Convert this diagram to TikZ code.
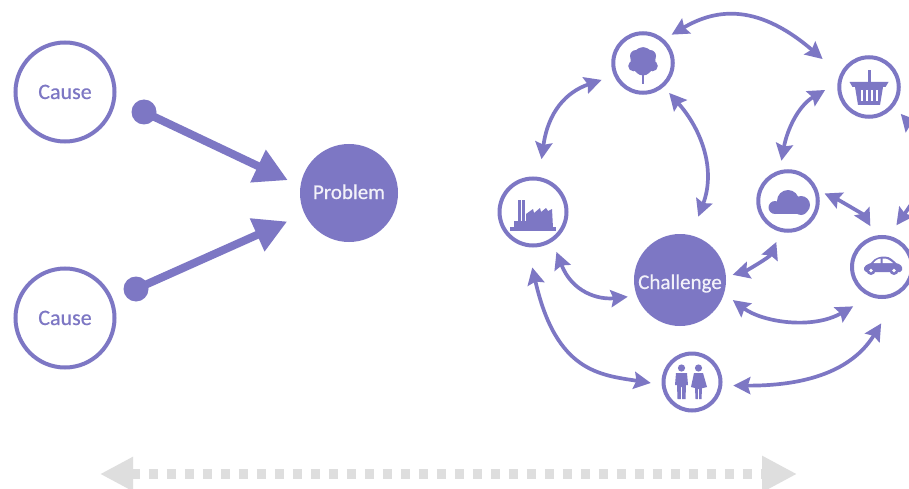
\documentclass[tikz,border=0pt]{standalone}
\usepackage{fontspec}
\setmainfont{Carlito}
\newfontfamily\labfont[FakeBold=0.5]{Carlito}
\usetikzlibrary{arrows.meta}
\definecolor{pur}{RGB}{125,119,196}
\definecolor{gry}{RGB}{222,222,222}
\tikzset{
  x=1pt,y=-1pt,
  ring/.style={circle,draw=pur,line width=4pt,fill=white,inner sep=0pt,outer sep=0pt,text=pur,font=\labfont\fontsize{22}{22}\selectfont},
  solidc/.style={circle,fill=pur,inner sep=0pt,outer sep=0pt,text=white!90!pur,font=\labfont\fontsize{21}{21}\selectfont},
  dbl/.style={draw=pur,line width=3.7pt,{Stealth[length=17pt,width=17pt,inset=2.5pt]}-{Stealth[length=17pt,width=17pt,inset=2.5pt]}},
  bigarrow/.style={draw=pur,line width=8pt,-{Triangle[length=33pt,width=34pt]}},
  icon/.style={fill=pur,draw=none},
  gap/.style={fill=white,draw=none}
}
\begin{document}
\begin{tikzpicture}
\useasboundingbox (0,0) rectangle (909,489);
\clip (0,0) rectangle (909,489);
\fill[white] (0,0) rectangle (909,489);
% left
\node[ring,minimum size=99pt] (cause1) at (65,92) {\raisebox{-7pt}[0pt][0pt]{Cause}};
\node[ring,minimum size=99pt] (cause2) at (65,318) {\raisebox{-7pt}[0pt][0pt]{Cause}};
\node[solidc,minimum size=98pt] (problem) at (349,193) {\raisebox{-6pt}[0pt][0pt]{Problem}};
\node[solidc,minimum size=25pt] (dot1) at (144,112) {};
\node[solidc,minimum size=25pt] (dot2) at (136,289) {};
\draw[bigarrow,shorten >=14pt] (dot1.center) -- (problem.172);
\draw[bigarrow,shorten >=19pt] (dot2.center) -- (problem.205);
% right nodes
\node[ring,minimum size=59.5pt] (tree) at (643,63) {};
\node[ring,minimum size=59.5pt] (basket) at (869,87) {};
\node[ring,minimum size=59.5pt] (cloud) at (788,201) {};
\node[ring,minimum size=67pt] (factory) at (533,212) {};
\node[ring,minimum size=60pt] (car) at (882,267) {};
\node[ring,minimum size=57pt] (people) at (692,382) {};
\node[solidc,minimum size=92pt] (challenge) at (680,280) {\raisebox{-9pt}[0pt][0pt]{Challenge}};
% connectors
\draw[dbl,shorten <=11pt,shorten >=25pt] (tree.50) .. controls (712,11) and (754,0) .. (basket.157);
\draw[dbl,shorten <=20pt,shorten >=15pt] (factory.80) .. controls (548,112) and (566,92) .. (tree.204);
\draw[dbl,shorten <=10pt,shorten >=20pt] (tree.311) .. controls (702,130) and (716,170) .. (challenge.76);
\draw[dbl,shorten <=17pt,shorten >=12pt] (basket.169) .. controls (798,106) and (787,130) .. (cloud.107);
\draw[dbl,shorten <=10pt,shorten >=13pt] (cloud.23) .. controls (839,200) and (864,215) .. (car.100);
\draw[dbl,shorten <=7pt,shorten >=13pt] (challenge.4) .. controls (746,271) and (770,257) .. (cloud.257);
\draw[dbl,shorten <=11pt,shorten >=22pt] (challenge.343) .. controls (762,322) and (812,330) .. (car.251);
\draw[dbl,shorten <=13pt,shorten >=9pt] (factory.304) .. controls (572,292) and (598,300) .. (challenge.200);
\draw[dbl,shorten <=23pt,shorten >=13pt] (factory.260) .. controls (556,372) and (600,375) .. (people.186);
\draw[dbl,shorten <=13pt,shorten >=40pt] (people.353) .. controls (815,386) and (855,366) .. (car.312);
\draw[dbl,shorten <=12pt,shorten >=15pt] (basket.323) .. controls (942,160) and (920,192) .. (car.79);
% grey double arrow
\coordinate (gl) at (100,474);
\coordinate (gr) at (797,474);
\draw[gry,line width=10pt,dash pattern=on 9pt off 9pt,{Triangle[length=33pt,width=32pt]}-{Triangle[length=35pt,width=34pt]}] (gl) -- (gr);
% tree icon
\begin{scope}[shift={(643,63)}]
\fill[icon] (0,-2) ellipse[x radius=12.5,y radius=13.5];
\fill[icon] (0,-8) circle[radius=7.8];
\fill[icon] (-7,-7) circle[radius=6];
\fill[icon] (7,-7) circle[radius=6];
\fill[icon] (-9.5,3) circle[radius=5.3];
\fill[icon] (9.5,3) circle[radius=5.3];
\fill[icon] (0,4) circle[radius=8.5];
\fill[icon] (-1.2,8) rectangle (1.2,21);
\end{scope}
% basket icon
\begin{scope}[shift={(869,87)}]
\fill[icon] (-1.5,-17) rectangle (1.5,-4);
\fill[icon] (-19.5,-5) -- (19.5,-5) -- (16.5,0) -- (-16.5,0) -- cycle;
\fill[icon] (-14,0) -- (14,0) -- (11,18) -- (-11,18) -- cycle;
\foreach \dx in {-7.5,-2.5,2.5,7.5}
  \fill[gap] (\dx-1,3) rectangle (\dx+1,14);
\end{scope}
% cloud icon
\begin{scope}[shift={(788,201)}]
\fill[icon] (0,0) circle[radius=11];
\fill[icon] (-13,6.5) circle[radius=6.5];
\fill[icon] (13,4) circle[radius=9];
\fill[icon] (-13,6) rectangle (13,13);
\fill[icon] (13,7) circle[radius=7];
\end{scope}
% factory icon
\begin{scope}[shift={(533,212)}]
\fill[icon] (-23,15) rectangle (23,18.5);
\fill[icon] (-15,-12) rectangle (-12.5,16);
\fill[icon] (-11,-12) rectangle (-8.5,16);
\fill[icon] (-19,16) -- (-19,9) -- (-7,9) -- (-7,2) -- (0,-3) -- (1,1) -- (7,-4) -- (8,0) -- (13,-4) -- (15,-1) -- (19,-3) -- (20,16) -- cycle;
\end{scope}
% car icon
\begin{scope}[shift={(882,267)}]
\fill[icon] (-18,3) .. controls (-19,-1) and (-14,-3) .. (-11,-4) .. controls (-7,-10) and (-1,-10.5) .. (3,-10.5) .. controls (8,-10.5) and (12,-6) .. (14,-4) .. controls (18,-3) and (21,-1) .. (20,3) -- (18,5) -- (-16,5) -- cycle;
\fill[gap] (-8.5,-4) .. controls (-6,-7.5) and (-3,-8.5) .. (-1.5,-8.5) -- (-1.5,-4) -- cycle;
\fill[gap] (0.5,-8.5) .. controls (5,-9) and (8,-6.5) .. (11,-4) -- (0.5,-4) -- cycle;
\fill[icon] (-11,3.5) circle[radius=4.5];
\fill[icon] (12,3.5) circle[radius=4.5];
\fill[gap] (-11,3.5) circle[radius=1.8];
\fill[gap] (12,3.5) circle[radius=1.8];
\end{scope}
% people icon
\begin{scope}[shift={(692,382)}]
\fill[icon] (-10.5,-14) circle[radius=3.6];
\fill[icon] (-16,-9) -- (-5,-9) -- (-4,3) -- (-6,3) -- (-6.5,17) -- (-9.8,17) -- (-9.8,5) -- (-11.2,5) -- (-11.2,17) -- (-14.5,17) -- (-15,3) -- (-17,3) -- cycle;
\fill[icon] (6.5,-14) circle[radius=3.6];
\fill[icon] (2,-9) -- (11,-9) -- (15,5) -- (11,6) -- (10,6) -- (9.5,17) -- (7.2,17) -- (7.2,7) -- (5.8,7) -- (5.8,17) -- (3.5,17) -- (3,6) -- (-1,5) -- cycle;
\end{scope}
\end{tikzpicture}
\end{document}
